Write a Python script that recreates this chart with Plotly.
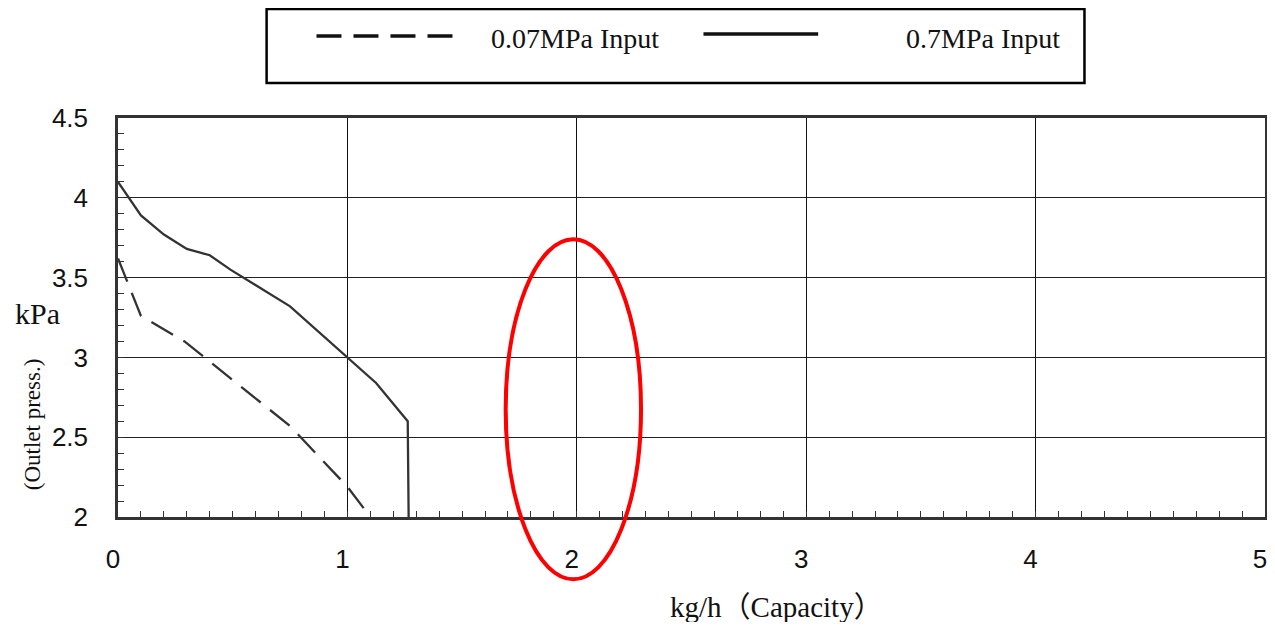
import plotly.graph_objects as go

# ---- data ----
low_name = "0.07MPa Input"
low_x = [0.0, 0.03, 0.10, 0.29, 0.75, 1.0, 1.10]
low_y = [3.62, 3.51, 3.26, 3.10, 2.57, 2.19, 2.0]

high_name = "0.7MPa Input"
high_x = [0.0, 0.10, 0.20, 0.30, 0.40, 0.49, 0.75, 1.0, 1.125, 1.263, 1.267]
high_y = [4.10, 3.89, 3.77, 3.68, 3.64, 3.55, 3.32, 3.0, 2.84, 2.60, 2.0]

x_ticks = [0, 1, 2, 3, 4, 5]
y_ticks = [2, 2.5, 3, 3.5, 4, 4.5]
x_title = "kg/h（Capacity）"
y_unit = "kPa"
y_title = "(Outlet press.)"

# highlight ellipse (data coordinates)
ell_x = [1.69, 2.28]
ell_y = [1.61, 3.74]

# page offset so positions below are in screenshot pixels
OFFX, OFFY = 6, 7
SW, SH = 1275, 630
W, H = SW - OFFX - 6, SH - OFFY - 9     # keep the page from overflowing
PL, PR, PT, PB = 116, 1266, 117, 516    # plot area in screenshot pixels
ML, MT = PL - OFFX, PT - OFFY
MR, MB = (OFFX + W) - PR, (OFFY + H) - PB
XR = [0, 5]
YR = [2, 4.5]

def px_to_paper_x(px):
    return (px - PL) / (PR - PL)

def px_to_paper_y(py):
    return (PB - py) / (PB - PT)

def data_to_paper_x(v):
    return (v - XR[0]) / (XR[1] - XR[0])

def data_to_paper_y(v):
    return (v - YR[0]) / (YR[1] - YR[0])

LINE_COL = "#333333"
DASH = "25px,12px"

fig = go.Figure()
fig.add_trace(go.Scatter(x=low_x, y=low_y, mode="lines", name=low_name,
                         line=dict(color=LINE_COL, width=2.3, dash=DASH),
                         showlegend=False))
fig.add_trace(go.Scatter(x=high_x, y=high_y, mode="lines", name=high_name,
                         line=dict(color=LINE_COL, width=2.3),
                         showlegend=False))

tick_font = dict(family="Liberation Sans, Arial", size=26, color="#111")
serif = "Liberation Serif, Noto Sans CJK JP"

fig.update_xaxes(range=XR, tickvals=x_ticks, ticktext=[str(v) for v in x_ticks],
                 showgrid=True, gridcolor="#111", gridwidth=1,
                 showline=True, linecolor="#333", linewidth=2.5, mirror=True,
                 ticks="inside", ticklen=6, tickcolor="#333",
                 minor=dict(dtick=0.1, ticks="inside", ticklen=6, tickcolor="#333", showgrid=False),
                 tickfont=tick_font, ticklabelstandoff=17, ticklabelshift=-5,
                 zeroline=False, fixedrange=True)
fig.update_yaxes(range=YR, tickvals=y_ticks, ticktext=[f"{v:g}" for v in y_ticks],
                 showgrid=True, gridcolor="#222", gridwidth=1.2,
                 showline=True, linecolor="#333", linewidth=2.5, mirror=True,
                 ticks="inside", ticklen=6, tickcolor="#333",
                 minor=dict(dtick=0.1, ticks="inside", ticklen=6, tickcolor="#333", showgrid=False),
                 tickfont=tick_font, ticklabelstandoff=22, zeroline=False, fixedrange=True)

shapes = []
# red ellipse
shapes.append(dict(type="circle", xref="paper", yref="paper",
                   x0=data_to_paper_x(ell_x[0]), x1=data_to_paper_x(ell_x[1]),
                   y0=data_to_paper_y(ell_y[0]), y1=data_to_paper_y(ell_y[1]),
                   line=dict(color="#ff0000", width=4), layer="above"))
# legend box
shapes.append(dict(type="rect", xref="paper", yref="paper",
                   x0=px_to_paper_x(265), x1=px_to_paper_x(1085),
                   y0=px_to_paper_y(82), y1=px_to_paper_y(8),
                   line=dict(color="#000", width=2.5), fillcolor="white"))
# legend samples
shapes.append(dict(type="line", xref="paper", yref="paper",
                   x0=px_to_paper_x(315), x1=px_to_paper_x(460),
                   y0=px_to_paper_y(35), y1=px_to_paper_y(35),
                   line=dict(color="#111", width=3.5, dash="25px,12px")))
shapes.append(dict(type="line", xref="paper", yref="paper",
                   x0=px_to_paper_x(703), x1=px_to_paper_x(818),
                   y0=px_to_paper_y(33), y1=px_to_paper_y(33),
                   line=dict(color="#111", width=3.5)))

annotations = [
    dict(text=low_name, xref="paper", yref="paper", x=px_to_paper_x(488), y=px_to_paper_y(38),
         xanchor="left", yanchor="middle", showarrow=False,
         font=dict(family=serif, size=28, color="#111")),
    dict(text=high_name, xref="paper", yref="paper", x=px_to_paper_x(1062), y=px_to_paper_y(38),
         xanchor="right", yanchor="middle", showarrow=False,
         font=dict(family=serif, size=28, color="#111")),
    dict(text=x_title, xref="paper", yref="paper", x=px_to_paper_x(776), y=px_to_paper_y(606),
         xanchor="center", yanchor="middle", showarrow=False,
         font=dict(family=serif, size=29, color="#111")),
    dict(text=y_unit, xref="paper", yref="paper", x=px_to_paper_x(35), y=px_to_paper_y(312),
         xanchor="center", yanchor="middle", showarrow=False,
         font=dict(family=serif, size=30, color="#111")),
    dict(text=y_title, xref="paper", yref="paper", x=px_to_paper_x(30), y=px_to_paper_y(423),
         xanchor="center", yanchor="middle", showarrow=False, textangle=-90,
         font=dict(family=serif, size=23, color="#111")),
]

fig.update_layout(width=W, height=H, margin=dict(l=ML, r=MR, t=MT, b=MB),
                  paper_bgcolor="white", plot_bgcolor="white",
                  shapes=shapes, annotations=annotations, showlegend=False)

fig.write_html("out.html")
